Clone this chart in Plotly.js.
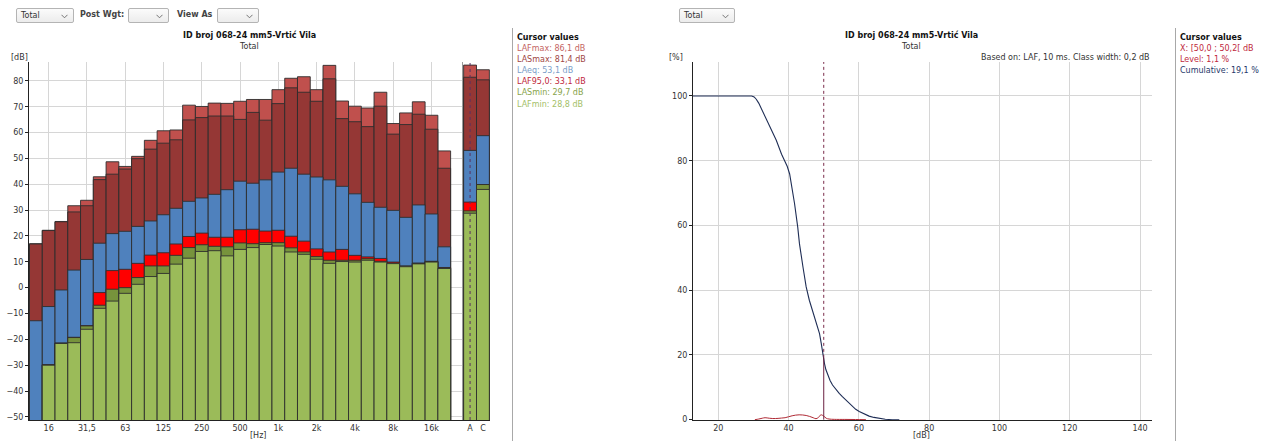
<!DOCTYPE html>
<html>
<head>
<meta charset="utf-8">
<script src="https://cdn.plot.ly/plotly-3.0.1.min.js"></script>
<style>
  html, body { margin:0; padding:0; background:#fff; overflow:hidden; }
  #wrap { position:relative; width:1273px; height:441px; font-family:'DejaVu Sans', sans-serif; }
  #chart { position:absolute; left:0; top:0; width:1273px; height:441px; }
  .dd { position:absolute; height:15px; border:1px solid #b4b4b4; border-radius:2px;
        background:linear-gradient(#fbfbfb,#ececec); font-size:8px; color:#333; box-sizing:border-box; }
  .dd span { position:absolute; left:4px; top:2px; }
  .dd svg { position:absolute; right:5px; top:5px; }
  .lbl { position:absolute; font-size:8px; font-weight:bold; color:#444; }
</style>
</head>
<body>
<div id="wrap">
  <div id="chart"></div>
</div>
<script>
// ---------------- DATA ----------------
const bands = ["12,5","16","20","25","31,5","40","50","63","80","100","125","160","200","250","315","400","500","630","800","1k","1,25k","1,6k","2k","2,5k","3,15k","4k","5k","6,3k","8k","10k","12,5k","16k","20k"];
const tickBands  = ["16","31,5","63","125","250","500","1k","2k","4k","8k","16k"];
const LAFmax = [17.0,22.2,25.6,31.7,33.8,42.9,48.7,46.9,50.8,57.0,60.7,61.0,70.6,70.1,71.4,71.3,72.1,72.8,72.8,76.6,81.0,81.6,76.6,86.0,72.2,70.2,69.5,75.6,63.5,67.6,71.9,66.7,52.9];
const LASmax = [16.9,22.1,25.5,29.3,31.7,41.8,43.9,45.9,49.9,53.6,55.9,57.2,64.9,65.8,66.4,66.4,65.1,67.8,64.8,71.2,77.3,75.6,72.1,80.8,65.4,64.2,62.3,70.2,59.4,63.1,67.1,61.3,46.2];
const LAeq   = [-12.8,-7.3,-0.9,6.8,10.9,17.2,20.9,21.8,23.7,25.8,28.2,30.7,33.4,34.7,36.1,37.9,41.2,40.4,41.7,44.7,46.2,43.9,42.8,41.7,39.2,36.3,33.0,31.1,29.9,27.2,32.0,28.5,15.8];
const LAF95  = [null,-29.8,-21.4,-19.2,-14.7,-1.9,6.6,7.1,9.4,12.6,13.5,16.9,19.8,21.1,19.5,19.5,22.4,22.6,21.9,22.2,19.9,18.0,15.0,13.8,14.8,12.5,11.9,11.3,9.9,8.4,9.5,10.2,7.8];
const LASmin = [null,-29.9,-21.5,-19.3,-14.8,-6.8,-0.6,0.0,3.9,8.4,8.4,12.5,15.5,16.6,16.0,15.8,17.3,17.0,17.4,17.4,15.4,13.8,12.0,10.6,10.6,10.6,11.2,10.2,9.5,8.3,9.4,10.1,7.6];
const LAFmin = [null,-30.0,-21.6,-21.3,-16.1,-8.0,-5.2,-2.2,1.3,4.3,5.5,9.1,11.4,14.0,14.3,12.3,14.8,15.5,16.7,16.1,13.8,12.9,11.0,9.4,10.1,9.9,10.6,9.9,9.3,8.1,9.2,9.9,7.4];

const totals = ["A","C"];
const totLAFmax = [86.1,84.3];
const totLASmax = [81.4,80.4];
const totLAeq   = [53.1,58.8];
const totLAF95  = [33.1,39.9];
const totLASmin = [29.7,39.9];
const totLAFmin = [28.8,38.0];

const cumX = [12.8,29.5,30.2,30.8,31.5,32.3,33,34.5,36.5,38,38.9,39.6,40.3,41,41.7,42.6,43.1,44.1,45.0,45.9,46.9,47.8,48.4,48.8,49.3,49.7,50.0,50.2,50.6,51.1,51.8,52.5,53.4,54.4,55.3,56.3,57.2,58.2,59.1,60.1,61.5,62.9,64.3,65.8,67.5,69.5,71.5];
const cumY = [100,100,99.7,99.0,97.8,96.0,94.3,91,86.3,82,80,78.3,75.9,71.5,66.7,59.5,54.3,47.1,41,36.9,33.3,30.2,28.6,26.6,23.5,20.4,19.1,17.4,15.5,13.8,12.1,10.7,9.3,8.1,7.1,6.1,5.0,4.0,3.2,2.5,1.7,1.1,0.7,0.4,0.15,0,0];
const levelX = [30.4,31.5,32.5,33.3,34.5,35.5,37,38,39,40,41,42,43,44,45,46,47,47.8,48.5,49.2,50,50.7,51.5,53,56,59,62];
const levelY = [0,0.2,0.45,0.6,0.45,0.35,0.4,0.5,0.6,0.9,1.2,1.4,1.5,1.45,1.3,1.0,0.6,0.3,0.7,1.5,1.1,0.45,0.2,0.1,0.08,0.05,0];
const cursorX = 50.0, cursorCum = 19.1;

const seriesNames = ["LAFmax","LASmax","LAeq","LAF95,0","LASmin","LAFmin"];
const barColors   = ["#c0504d","#953735","#4f81bd","#ff0000","#77933c","#9bbb59"];
const textColors  = ["#c46462","#a04644","#7b9dc8","#c0283c","#87a34a","#a3c067"];

// ---------------- UI boxes ----------------
const wrap = document.getElementById('wrap');
function chevron(){ return '<svg width="7" height="5" viewBox="0 0 7 5"><polyline points="0.5,0.8 3.5,3.8 6.5,0.8" fill="none" stroke="#666" stroke-width="0.9"/></svg>'; }
function box(x,w,txt){ const d=document.createElement('div'); d.className='dd'; d.style.left=x+'px'; d.style.top='8px'; d.style.width=w+'px';
  d.innerHTML=(txt?'<span>'+txt+'</span>':'')+chevron(); wrap.appendChild(d); }
function lbl(x,txt){ const d=document.createElement('div'); d.className='lbl'; d.style.left=x+'px'; d.style.top='10px'; d.textContent=txt; wrap.appendChild(d); }
box(16,58,'Total'); lbl(80,'Post Wgt:'); box(128,41,''); lbl(177,'View As'); box(217,42,''); box(679,56,'Total');

// ---------------- PLOT ----------------
const W=1273, H=441;
const px = x => x/W, py = y => 1 - y/H;
const BASE = -60;
const up = arr => arr.map(v => v==null ? null : v - BASE);
const bandSeries = [LAFmax,LASmax,LAeq,LAF95,LASmin,LAFmin];
const totSeries  = [totLAFmax,totLASmax,totLAeq,totLAF95,totLASmin,totLAFmin];

const traces = [];
bandSeries.forEach((s,k)=>traces.push({type:'bar', x:bands, y:up(s), base:BASE, width:1, xaxis:'x', yaxis:'y',
  marker:{color:barColors[k], line:{color:'#2e2e2e', width:0.9}}, name:seriesNames[k], hoverinfo:'skip'}));
totSeries.forEach((s,k)=>traces.push({type:'bar', x:totals, y:up(s), base:BASE, width:1, xaxis:'x2', yaxis:'y2',
  marker:{color:barColors[k], line:{color:'#2e2e2e', width:0.9}}, name:seriesNames[k], hoverinfo:'skip'}));
traces.push({type:'scatter', mode:'lines', x:levelX, y:levelY, xaxis:'x3', yaxis:'y3', line:{color:'#b02a35', width:1, shape:'spline'}, hoverinfo:'skip'});
traces.push({type:'scatter', mode:'lines', x:cumX, y:cumY, xaxis:'x3', yaxis:'y3', line:{color:'#1e2d55', width:1.1, shape:'linear'}, hoverinfo:'skip'});

const yTop = py(62), yBot = py(420);
const grid = '#d6d6d6';
const fnt = {family:'DejaVu Sans', size:8, color:'#333'};

const ann = [];
function A(x,y,text,opt){ ann.push(Object.assign({xref:'paper', yref:'paper', x:px(x), y:py(y), text:text, showarrow:false,
  xanchor:'left', yanchor:'middle', font:Object.assign({}, fnt)}, opt||{})); }
// titles
A(249,35,'<b>ID broj 068-24 mm5-Vrtić Vila</b>',{xanchor:'center', font:{family:'DejaVu Sans', size:8, color:'#111'}});
A(249,46,'Total',{xanchor:'center'});
A(911,35,'<b>ID broj 068-24 mm5-Vrtić Vila</b>',{xanchor:'center', font:{family:'DejaVu Sans', size:8, color:'#111'}});
A(911,46,'Total',{xanchor:'center'});
A(9,57,'[dB]'); A(248,435,'[Hz]'); A(667,57,'[%]'); A(911,435,'[dB]');
A(1152,57,'Based on: LAF, 10 ms. Class width: 0,2 dB',{xanchor:'right'});
// left cursor panel
A(515,37,'<b>Cursor values</b>',{font:{family:'DejaVu Sans', size:8, color:'#111'}});
const curVals = [totLAFmax[0],totLASmax[0],totLAeq[0],totLAF95[0],totLASmin[0],totLAFmin[0]];
seriesNames.forEach((n,k)=>A(515,48+11.2*k, n+': '+curVals[k].toFixed(1).replace('.',',')+' dB', {font:{family:'DejaVu Sans', size:8, color:textColors[k]}}));
// right cursor panel
A(1178,37,'<b>Cursor values</b>',{font:{family:'DejaVu Sans', size:8, color:'#111'}});
A(1178,48,'X: [50,0 ; 50,2[ dB',{font:{family:'DejaVu Sans', size:8, color:'#c0283c'}});
A(1178,59,'Level: 1,1 %',{font:{family:'DejaVu Sans', size:8, color:'#c0283c'}});
A(1178,70,'Cumulative: 19,1 %',{font:{family:'DejaVu Sans', size:8, color:'#26386a'}});

const shapes = [
  {type:'line', xref:'paper', yref:'paper', x0:px(512.5), x1:px(512.5), y0:py(28), y1:0, line:{color:'#a8a8a8', width:1}},
  {type:'line', xref:'paper', yref:'paper', x0:px(1175.5), x1:px(1175.5), y0:py(28), y1:0, line:{color:'#a8a8a8', width:1}},
  {type:'line', xref:'x2', yref:'paper', x0:0, x1:0, y0:yBot, y1:yTop, line:{color:'#5a3060', width:1, dash:'dot'}},
  {type:'line', xref:'x3', yref:'y3', x0:cursorX, x1:cursorX, y0:cursorCum, y1:110.5, line:{color:'#7a2a4a', width:1, dash:'dot'}},
  {type:'line', xref:'x3', yref:'y3', x0:cursorX, x1:cursorX, y0:0, y1:cursorCum, line:{color:'#6a2040', width:1}}
];

const layout = {
  width:W, height:H, margin:{l:0,r:0,t:0,b:0}, paper_bgcolor:'#fff', plot_bgcolor:'#fff',
  showlegend:false, barmode:'overlay', font:fnt, annotations:ann, shapes:shapes,
  xaxis:{domain:[px(29),px(463)], anchor:'y', type:'category', range:[-0.54,33.47], tickvals:tickBands, ticktext:tickBands,
         showgrid:true, gridcolor:grid, showline:true, linecolor:'#222', linewidth:1, ticks:'', zeroline:false, tickfont:fnt, fixedrange:true},
  yaxis:{domain:[yBot,yTop], anchor:'x', range:[-51.2,87.3], tick0:0, dtick:10, showgrid:true, gridcolor:grid, showline:true,
         linecolor:'#222', linewidth:1, ticks:'outside', ticklen:3, tickcolor:'#222', zeroline:false, tickfont:fnt, fixedrange:true},
  xaxis2:{domain:[px(463),px(490)], anchor:'y2', type:'category', range:[-0.55,1.55], showgrid:false, showline:true,
          linecolor:'#222', linewidth:1, ticks:'', zeroline:false, tickfont:fnt, fixedrange:true},
  yaxis2:{domain:[yBot,yTop], anchor:'x2', range:[-51.2,87.3], showgrid:false, showticklabels:false, showline:true,
          linecolor:'#9a9a9a', linewidth:1, ticks:'', zeroline:false, fixedrange:true},
  xaxis3:{domain:[px(693),px(1152)], anchor:'y3', range:[12.8,143.4], tickvals:[20,40,60,80,100,120,140], showgrid:true, gridcolor:grid,
          showline:true, linecolor:'#222', linewidth:1, ticks:'', zeroline:false, tickfont:fnt, fixedrange:true},
  yaxis3:{domain:[yBot,yTop], anchor:'x3', range:[-0.1,110.5], tickvals:[0,20,40,60,80,100], showgrid:true, gridcolor:grid,
          showline:true, linecolor:'#222', linewidth:1, ticks:'outside', ticklen:3, tickcolor:'#222', zeroline:false, tickfont:fnt, fixedrange:true}
};

Plotly.newPlot('chart', traces, layout, {staticPlot:true, displayModeBar:false});
</script>
</body>
</html>
